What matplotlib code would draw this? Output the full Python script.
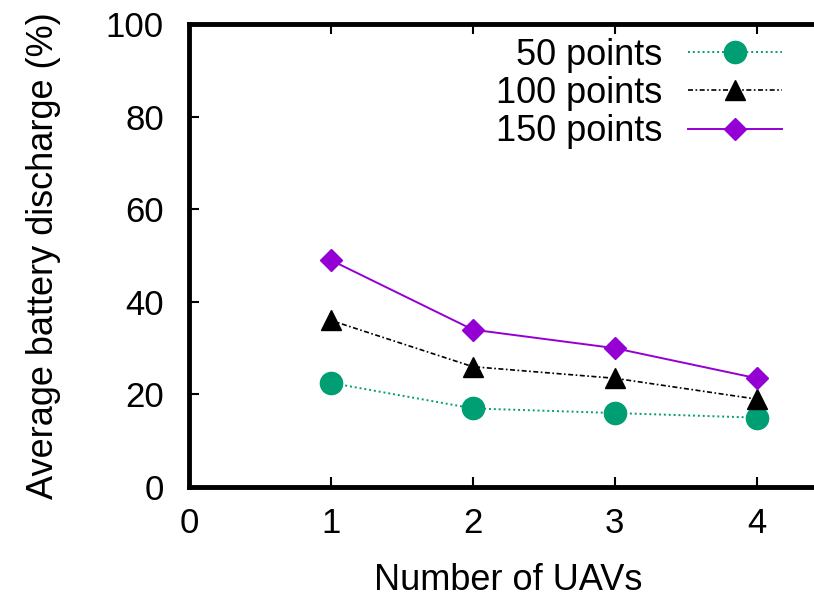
import matplotlib
matplotlib.use("Agg")
import matplotlib.pyplot as plt

uavs = [1, 2, 3, 4]
pts50 = [22.5, 17.0, 16.0, 15.0]
pts100 = [36.0, 26.0, 23.5, 19.0]
pts150 = [49.0, 34.0, 30.0, 23.5]
labels = ["50 points", "100 points", "150 points"]
xticks = [0, 1, 2, 3, 4]
yticks = [0, 20, 40, 60, 80, 100]

plt.rcParams["font.family"] = ["Liberation Sans", "DejaVu Sans"]

fig = plt.figure(figsize=(8.14, 5.97), dpi=100)
ax = fig.add_axes([0.232, 0.184, 0.785, 0.776])

ax.plot(uavs, pts50, color="#009E73", linestyle=(0, (1, 1.5)), linewidth=1.4,
        marker="o", markersize=16, label=labels[0])
ax.plot(uavs, pts100, color="black", linestyle=(0, (3, 1.5, 1, 1.5)), linewidth=1.2,
        marker="^", markersize=15, label=labels[1])
ax.plot(uavs, pts150, color="#9400D3", linestyle="-", linewidth=1.4,
        marker="D", markersize=11, label=labels[2])

ax.set_xlim(0, 4.5)
ax.set_ylim(0, 100)
ax.set_xticks(xticks)
ax.set_yticks(yticks)
ax.tick_params(axis="both", direction="in", length=7, width=1.5, labelsize=25,
               top=True, right=True)
ax.tick_params(axis="x", pad=14)
ax.tick_params(axis="y", pad=18)
for s in ax.spines.values():
    s.set_linewidth(3.5)

ax.set_xlabel("Number of UAVs", fontsize=26, labelpad=17)
ax.set_ylabel("Average battery discharge (%)", fontsize=26, labelpad=32)

leg = ax.legend(loc="upper right", bbox_to_anchor=(0.928, 0.97), frameon=False,
                fontsize=26, markerfirst=False, handlelength=2.6,
                labelspacing=0.09, handletextpad=0.7, borderaxespad=0.0,
                borderpad=0.0)

fig.savefig("out.png", dpi=100)
